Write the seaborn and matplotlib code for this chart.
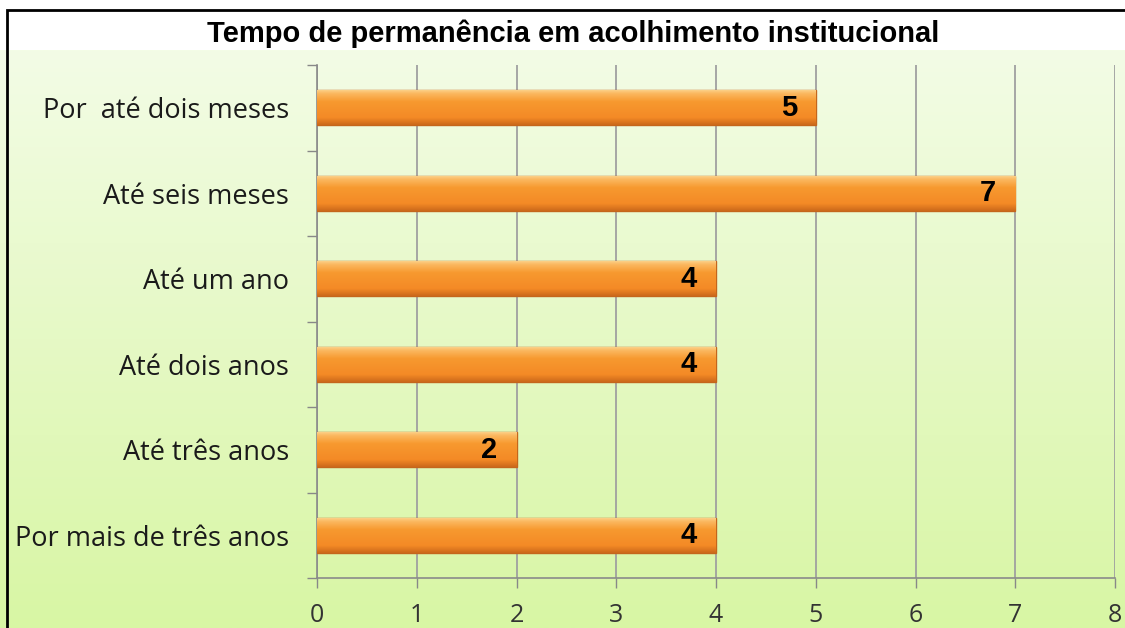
import numpy as np
import pandas as pd
import matplotlib
matplotlib.use("Agg")
import matplotlib.pyplot as plt
import matplotlib.patches as mpatches
from matplotlib.colors import LinearSegmentedColormap
import seaborn as sns

categories = ["Por  até dois meses", "Até seis meses", "Até um ano",
              "Até dois anos", "Até três anos", "Por mais de três anos"]
values = [5, 7, 4, 4, 2, 4]
xticks = [0, 1, 2, 3, 4, 5, 6, 7, 8]
title = "Tempo de permanência em acolhimento institucional"

df = pd.DataFrame({"cat": categories, "val": values})

sns.set_theme(style="white")
plt.rcParams["font.family"] = ["Open Sans", "DejaVu Sans"]

W, H = 1125, 628
fig = plt.figure(figsize=(W / 100, H / 100), dpi=100, facecolor="white")

# gradient background
bg = fig.add_axes([0, 0, 1, 1 - 50 / H], zorder=-2)
grad = np.linspace(0, 1, 256).reshape(-1, 1)
top = np.array([0xf3, 0xfc, 0xe6]) / 255
bot = np.array([0xd8, 0xf6, 0xa4]) / 255
img = top[None, None, :] * (1 - grad[:, :, None]) + bot[None, None, :] * grad[:, :, None]
bg.imshow(img, aspect="auto", extent=[0, 1, 0, 1])
bg.set_axis_off()

ax = fig.add_axes([317 / W, 1 - 578 / H, (1115 - 317) / W, (578 - 65) / H])
ax.set_facecolor("none")

sns.barplot(data=df, x="val", y="cat", orient="h", ax=ax, width=0.41,
            color="#f6922e", edgecolor="#c4661c", linewidth=1.0, saturation=1,
            zorder=3)

ax.set_xlim(0, 8)
ax.set_ylim(5.5, -0.5)

# bevel-like vertical gradient inside each bar
bar_cmap = LinearSegmentedColormap.from_list(
    "bev", [(0.0, "#fcd690"), (0.12, "#fbb75f"), (0.35, "#f7992f"),
            (0.8, "#f48a26"), (1.0, "#cc691b")])
g = np.linspace(0, 1, 64).reshape(-1, 1)
for p in list(ax.patches):
    x0, y0 = p.get_x(), p.get_y()
    w, h = p.get_width(), p.get_height()
    im = ax.imshow(g, cmap=bar_cmap, aspect="auto", origin="upper",
                   extent=[x0, x0 + w, y0 + h, y0], zorder=3.5, interpolation="bilinear")
    im.set_clip_path(p)
ax.set_xlim(0, 8)
ax.set_ylim(5.5, -0.5)
ax.set_aspect("auto")

for i, v in enumerate(values):
    ax.text(v - 0.19, i, str(v), ha="right", va="center", fontsize=21,
            fontweight="bold", color="black",
            family=["Liberation Sans Narrow", "Liberation Sans", "DejaVu Sans"],
            zorder=5)

ax.set_xticks(xticks)
ax.set_xticklabels([str(t) for t in xticks], fontsize=18, color="#333333")
ax.set_yticks(range(len(categories)))
ax.set_yticklabels(categories, fontsize=19.5, color="#1a1a1a")
ax.set_yticks(np.arange(-0.5, len(categories), 1), minor=True)
ax.tick_params(axis="y", which="major", length=0, pad=20)
ax.tick_params(axis="y", which="minor", length=7, width=1, color="#888888", direction="out", left=True)
ax.tick_params(axis="x", which="major", length=7, width=1, color="#888888", direction="out",
               bottom=True, pad=11)
ax.set_xlabel("")
ax.set_ylabel("")
ax.grid(axis="x", color="#a0a0a0", linewidth=1.3, zorder=0)
ax.set_axisbelow(True)
for s in ["top", "right"]:
    ax.spines[s].set_visible(False)
for s in ["left", "bottom"]:
    ax.spines[s].set_color("#8a8a8a")
    ax.spines[s].set_linewidth(1.2)

fig.text(573 / W, 1 - 34 / H, title, ha="center", va="center", fontsize=21,
         fontweight="bold", family=["Liberation Sans", "DejaVu Sans"], color="black")

# figure border (left and top edges)
border = mpatches.Rectangle((7 / W, -0.1), 1.2, 1.1 - 10 / H, transform=fig.transFigure,
                            fill=False, edgecolor="black", linewidth=2, zorder=10)
fig.patches.append(border)

fig.savefig("out.png", dpi=100, facecolor="white")
